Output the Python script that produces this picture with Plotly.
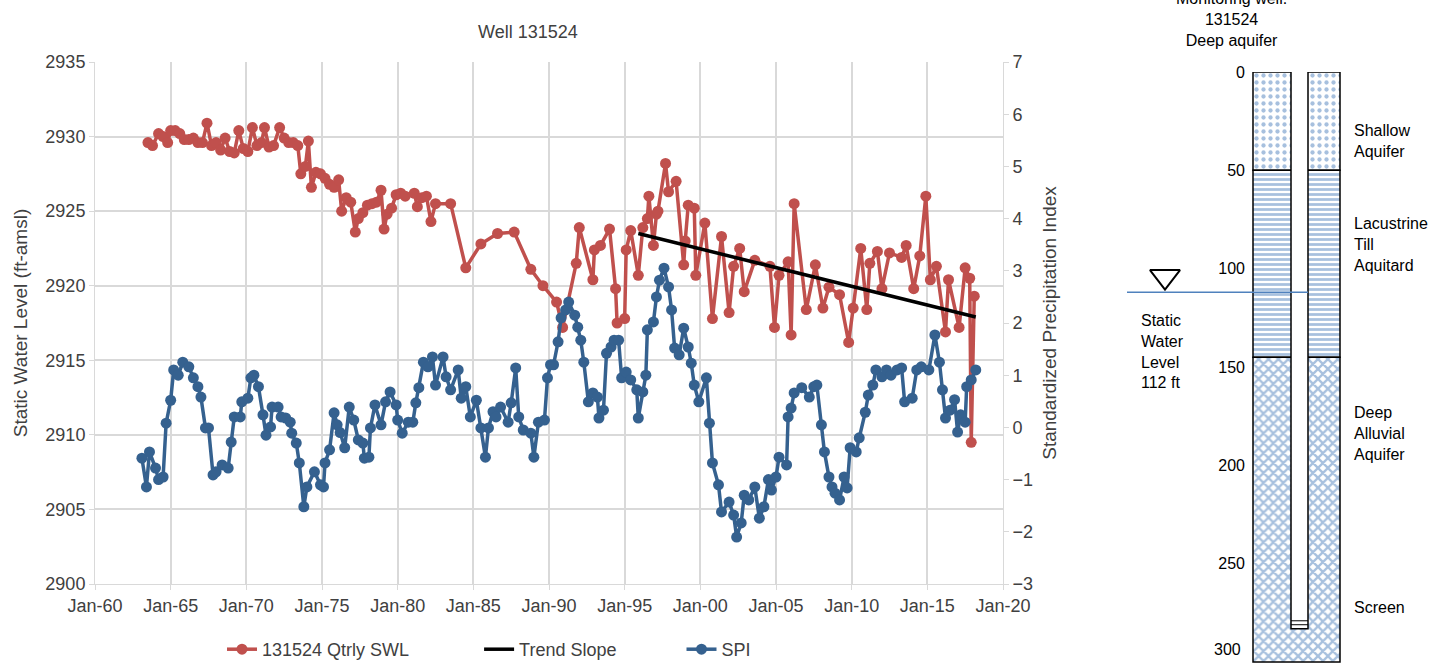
import plotly.graph_objects as go

# --- data ---
swl_year = [1963.5, 1963.8, 1964.2, 1964.5, 1964.8, 1965.0, 1965.3, 1965.6, 1965.9, 1966.2, 1966.5, 1966.8,
            1967.1, 1967.4, 1967.7, 1968.0, 1968.3, 1968.6, 1968.9, 1969.2, 1969.5, 1969.8, 1970.1, 1970.4,
            1970.7, 1971.0, 1971.2, 1971.5, 1971.8, 1972.2, 1972.5, 1972.8, 1973.1, 1973.4, 1973.6, 1973.9,
            1974.1, 1974.3, 1974.6, 1974.9, 1975.2, 1975.5, 1975.8, 1976.1, 1976.3, 1976.6, 1976.9, 1977.2,
            1977.4, 1977.7, 1978.0, 1978.3, 1978.6, 1978.9, 1979.1, 1979.3, 1979.6, 1979.9, 1980.2, 1980.5,
            1981.1, 1981.3, 1981.6, 1981.9, 1982.2, 1982.5, 1983.5, 1984.5, 1985.5, 1986.6, 1987.7, 1988.8,
            1989.6, 1990.5, 1990.9, 1991.8, 1992.0, 1992.9, 1993.0, 1993.4, 1994.0, 1994.4, 1994.5, 1995.0,
            1995.1, 1995.4, 1995.9, 1996.2, 1996.5, 1996.6, 1996.9, 1997.1, 1997.2, 1997.7, 1997.9, 1998.4,
            1998.9, 1999.0, 1999.2, 1999.6, 1999.7, 2000.3, 2000.8, 2001.4, 2001.9, 2002.2, 2002.6, 2002.9,
            2003.6, 2004.6, 2004.9, 2005.2, 2005.8, 2006.0, 2006.2, 2007.0, 2007.6, 2008.1, 2008.5, 2009.2,
            2009.8, 2010.1, 2010.6, 2011.0, 2011.2, 2011.7, 2012.0, 2012.5, 2013.3, 2013.6, 2014.1, 2014.5,
            2014.9, 2015.2, 2015.6, 2016.2, 2016.4, 2017.1, 2017.5, 2017.8, 2017.9, 2018.1]
swl = [2929.6, 2929.4, 2930.2, 2930.0, 2929.6, 2930.4, 2930.4, 2930.2, 2929.8, 2929.8, 2929.9, 2929.6,
       2929.6, 2930.9, 2929.4, 2929.6, 2929.1, 2929.9, 2929.0, 2928.9, 2930.4, 2929.2, 2929.0, 2930.6,
       2929.4, 2929.6, 2930.6, 2929.3, 2929.4, 2930.6, 2929.9, 2929.6, 2929.6, 2929.4, 2927.5, 2928.0,
       2929.7, 2926.6, 2927.6, 2927.5, 2927.2, 2926.8, 2926.6, 2927.1, 2925.0, 2925.9, 2925.6, 2923.6,
       2924.5, 2924.9, 2925.4, 2925.5, 2925.6, 2926.4, 2923.8, 2924.8, 2925.2, 2926.1, 2926.2, 2926.0,
       2926.2, 2925.3, 2925.9, 2926.0, 2924.3, 2925.5, 2925.5, 2921.2, 2922.8, 2923.5, 2923.6, 2921.1,
       2920.0, 2918.9, 2917.2, 2921.5, 2923.9, 2920.4, 2922.4, 2922.7, 2923.8, 2919.8, 2917.5, 2917.8,
       2922.4, 2923.7, 2920.7, 2923.9, 2924.5, 2926.0, 2922.7, 2924.8, 2925.0, 2928.2, 2926.3, 2927.0,
       2921.4, 2923.0, 2925.4, 2925.2, 2920.7, 2924.2, 2917.8, 2923.3, 2918.2, 2921.3, 2922.5, 2919.6,
       2921.7, 2921.3, 2917.2, 2920.7, 2921.6, 2916.7, 2925.5, 2918.4, 2921.4, 2918.5, 2919.9, 2919.4,
       2916.2, 2918.5, 2922.5, 2918.4, 2921.5, 2922.3, 2919.8, 2922.2, 2921.9, 2922.7, 2919.8, 2922.0,
       2926.0, 2920.4, 2921.3, 2916.9, 2920.4, 2917.2, 2921.2, 2920.5, 2909.5, 2919.3]

trend_year = [1995.9, 2018.2]
trend_swl = [2923.5, 2917.9]

spi_year = [1963.1, 1963.4, 1963.6, 1964.0, 1964.2, 1964.5, 1964.7, 1965.0, 1965.2, 1965.5, 1965.8, 1966.2,
            1966.5, 1966.8, 1967.0, 1967.3, 1967.5, 1967.8, 1968.0, 1968.4, 1968.8, 1969.0, 1969.2, 1969.6,
            1969.7, 1970.1, 1970.3, 1970.5, 1970.8, 1971.1, 1971.3, 1971.6, 1971.7, 1972.1, 1972.3, 1972.6,
            1972.9, 1973.0, 1973.3, 1973.5, 1973.8, 1974.0, 1974.5, 1974.9, 1975.1, 1975.2, 1975.5, 1975.8,
            1976.0, 1976.2, 1976.5, 1976.8, 1977.1, 1977.4, 1977.7, 1977.8, 1978.1, 1978.2, 1978.5, 1978.9,
            1979.2, 1979.5, 1979.9, 1980.0, 1980.3, 1980.7, 1981.0, 1981.2, 1981.4, 1981.7, 1982.0, 1982.3,
            1982.5, 1983.0, 1983.2, 1983.5, 1984.0, 1984.2, 1984.5, 1984.8, 1985.2, 1985.5, 1985.8, 1986.0,
            1986.3, 1986.5, 1986.8, 1987.3, 1987.5, 1987.8, 1988.0, 1988.3, 1988.8, 1989.0, 1989.3, 1989.7,
            1989.9, 1990.1, 1990.3, 1990.6, 1990.8, 1991.1, 1991.3, 1991.7, 1991.9, 1992.1, 1992.3, 1992.6,
            1992.9, 1993.2, 1993.3, 1993.6, 1993.8, 1994.1, 1994.3, 1994.6, 1994.8, 1995.1, 1995.4, 1995.8,
            1995.9, 1996.2, 1996.4, 1996.5, 1996.9, 1997.1, 1997.3, 1997.6, 1997.9, 1998.1, 1998.3, 1998.6,
            1998.9, 1999.2, 1999.4, 1999.6, 1999.9, 2000.4, 2000.6, 2000.8, 2001.2, 2001.4, 2001.9, 2002.2,
            2002.4, 2002.7, 2002.9, 2003.2, 2003.6, 2003.9, 2004.2, 2004.5, 2004.7, 2005.0, 2005.2, 2005.7,
            2005.8, 2006.0, 2006.2, 2006.7, 2007.2, 2007.5, 2007.7, 2008.0, 2008.2, 2008.5, 2008.7, 2008.9,
            2009.2, 2009.5, 2009.7, 2009.9, 2010.3, 2010.5, 2010.9, 2011.1, 2011.4, 2011.6, 2012.0, 2012.3,
            2012.6, 2013.0, 2013.3, 2013.5, 2014.0, 2014.3, 2014.6, 2015.1, 2015.5, 2015.8, 2016.0, 2016.2,
            2016.5, 2016.8, 2017.0, 2017.2, 2017.5, 2017.6, 2017.9, 2018.2]
spi = [-0.59, -1.14, -0.47, -0.78, -1.0, -0.95, 0.08, 0.52, 1.1, 1.0, 1.25, 1.16,
       0.95, 0.78, 0.58, -0.01, -0.01, -0.91, -0.85, -0.72, -0.78, -0.28, 0.2, 0.2,
       0.49, 0.56, 0.95, 1.0, 0.78, 0.24, -0.15, 0.01, 0.39, 0.39, 0.2, 0.18,
       0.1, -0.11, -0.3, -0.68, -1.52, -1.14, -0.85, -1.1, -1.14, -0.68, -0.43, 0.28,
       0.05, -0.1, -0.39, 0.39, 0.14, -0.24, -0.3, -0.59, -0.57, -0.01, 0.43, 0.05,
       0.49, 0.68, 0.43, 0.14, -0.11, 0.1, 0.1, 0.47, 0.76, 1.25, 1.16, 1.35,
       0.81, 1.35, 0.97, 0.72, 1.1, 0.56, 0.78, 0.2, 0.52, -0.01, -0.57, -0.01,
       0.3, 0.2, 0.39, 0.1, 0.47, 1.14, 0.2, -0.05, -0.11, -0.57, 0.1, 0.14,
       0.95, 1.2, 1.2, 1.64, 2.1, 2.25, 2.4, 2.15, 1.92, 1.67, 1.25, 0.49,
       0.66, 0.58, 0.18, 0.33, 1.42, 1.54, 1.67, 1.67, 0.95, 1.06, 0.91, 0.72,
       0.18, 0.68, 1.0, 1.87, 2.02, 2.5, 2.82, 3.05, 2.69, 2.25, 1.52, 1.39,
       1.9, 1.54, 1.23, 0.81, 0.49, 0.95, 0.08, -0.68, -1.1, -1.62, -1.43, -1.68,
       -2.1, -1.83, -1.3, -1.39, -1.14, -1.74, -1.52, -1.0, -1.2, -0.95, -0.57, -0.72,
       0.2, 0.37, 0.66, 0.76, 0.58, 0.78, 0.81, 0.05, -0.47, -0.95, -1.14, -1.26,
       -1.39, -0.95, -1.16, -0.39, -0.47, -0.2, 0.29, 0.62, 0.81, 1.1, 0.97, 1.1,
       1.0, 1.1, 1.14, 0.49, 0.56, 1.1, 1.16, 1.1, 1.77, 1.25, 0.72, 0.18,
       0.33, 0.53, -0.09, 0.24, 0.1, 0.78, 0.91, 1.1]

tick_years = list(range(1960, 2021, 5))
tick_text = ["Jan-60", "Jan-65", "Jan-70", "Jan-75", "Jan-80", "Jan-85", "Jan-90",
             "Jan-95", "Jan-00", "Jan-05", "Jan-10", "Jan-15", "Jan-20"]

# well schematic (depth in ft)
layer_names = ["Shallow<br>Aquifer", "Lacustrine<br>Till<br>Aquitard", "Deep<br>Alluvial<br>Aquifer"]
layer_top = [0, 50, 145]
layer_bottom = [50, 145, 300]
layer_pattern = [".", "-", "x"]
depth_ticks = [0, 50, 100, 150, 200, 250, 300]
swl_depth = 112
screen_depth = 280

RED = "#c0504d"
BLUE = "#35618f"
FONT = "Liberation Sans"
W, H = 1436, 668
PAD = "\u00a0"

fig = go.Figure()

fig.add_trace(go.Scatter(x=swl_year, y=swl, mode="lines+markers", name="131524 Qtrly SWL" + PAD * 13,
                         line=dict(color=RED, width=3.5), marker=dict(size=11, color=RED)))
fig.add_trace(go.Scatter(x=trend_year, y=trend_swl, mode="lines", name="Trend Slope" + PAD * 12,
                         line=dict(color="black", width=3.5)))
fig.add_trace(go.Scatter(x=spi_year, y=spi, mode="lines+markers", name="SPI", yaxis="y2",
                         line=dict(color=BLUE, width=3.5), marker=dict(size=11, color=BLUE)))

# schematic layers as patterned bars
for top, bot, pat in zip(layer_top, layer_bottom, layer_pattern):
    fig.add_trace(go.Bar(x=[176.5], y=[bot - top], base=[top], width=[87], xaxis="x3", yaxis="y3",
                         showlegend=False, hoverinfo="skip",
                         marker=dict(line=dict(color="black", width=1.5),
                                     pattern=dict(shape=pat, fgcolor="#4f81bd", bgcolor="white",
                                                  size=5 if pat == "-" else 7,
                                                  solidity=0.3 if pat == "." else 0.55))))
fig.add_trace(go.Scatter(x=[45], y=[104], mode="markers", xaxis="x3", yaxis="y3", showlegend=False,
                         marker=dict(symbol="triangle-down-open", size=26, color="black",
                                     line=dict(width=2))))

shapes = [
    dict(type="rect", xref="x3", yref="y3", x0=171, x1=188, y0=-6, y1=screen_depth + 3,
         fillcolor="white", line=dict(color="black", width=1.5)),
    dict(type="line", xref="x3", yref="y3", x0=7, x1=188, y0=swl_depth, y1=swl_depth,
         line=dict(color="#4f81bd", width=1.5)),
]
for d in [screen_depth - 1, screen_depth + 1]:
    shapes.append(dict(type="line", xref="x3", yref="y3", x0=171, x1=188, y0=d, y1=d,
                       line=dict(color="black", width=1)))

# text positions given in pixels from the top-left, converted below
annotations = [
    dict(text="Well 131524", x=528, y=20, font=dict(size=18)),
    dict(text="Monitoring well:<br>131524<br>Deep aquifer", x=1289, y=-12,
         font=dict(size=16, color="black"), yanchor="top"),
    dict(text="Static<br>Water<br>Level<br>112 ft", x=1139, y=310,
         font=dict(size=16, color="black"), align="left", xanchor="left", yanchor="top"),
    dict(text="300", x=1243, y=660, font=dict(size=16, color="black"), xanchor="right"),
]
label_pos = [(1352, 120), (1352, 245), (1352, 433), (1352, 618)]
for (px, py), txt in zip(label_pos, layer_names + ["Screen"]):
    annotations.append(dict(text=txt, x=px, y=py, font=dict(size=16, color="black"),
                            align="left", xanchor="left"))
for a in annotations:
    a.update(xref="paper", yref="paper", showarrow=False, x=a["x"] / W, y=1 - a["y"] / H)

fig.update_layout(
    width=W, height=H, margin=dict(l=0, r=0, t=0, b=0, autoexpand=False),
    plot_bgcolor="white", paper_bgcolor="white",
    font=dict(family=FONT, color="#404040", size=18),
    barmode="overlay",
    xaxis=dict(domain=[95 / W, 1003 / W], range=[1960, 2020], tickvals=tick_years, ticktext=tick_text,
               showgrid=True, gridcolor="#d9d9d9", gridwidth=2, zeroline=False,
               showline=True, linecolor="#d9d9d9", ticks="outside", tickcolor="#d9d9d9",
               tickfont=dict(size=18, color="#404040"), automargin=False),
    yaxis=dict(domain=[84 / H, 606 / H], range=[2900, 2935], dtick=5,
               title=dict(text="Static Water Level (ft-amsl)", font=dict(size=19), standoff=12),
               showgrid=True, gridcolor="#d9d9d9", gridwidth=2, zeroline=False,
               showline=True, linecolor="#d9d9d9", ticks="outside", tickcolor="#d9d9d9",
               tickfont=dict(size=18, color="#404040"), automargin=False),
    yaxis2=dict(overlaying="y", side="right", range=[-3, 7], dtick=1,
                title=dict(text="Standardized Precipitation Index", font=dict(size=19), standoff=10),
                showgrid=False, zeroline=False, showline=True, linecolor="#d9d9d9",
                ticks="outside", tickcolor="#d9d9d9", tickfont=dict(size=18, color="#404040"),
                automargin=False),
    xaxis3=dict(domain=[1120 / W, 1.0], range=[0, 316], anchor="y3", visible=False),
    yaxis3=dict(domain=[0, 596 / H], range=[303, 0], anchor="free", position=1245 / W,
                tickvals=depth_ticks[:-1], showgrid=False, zeroline=False, showline=False, ticks="",
                tickfont=dict(size=16, color="black"), automargin=False),
    legend=dict(orientation="h", x=222 / W, xanchor="left", y=0.0, yanchor="bottom",
                font=dict(size=18, color="#404040"), tracegroupgap=0),
    shapes=shapes, annotations=annotations,
)

fig.write_html("out.html", config=dict(displayModeBar=False),
               post_script="document.body.style.margin='0';")
